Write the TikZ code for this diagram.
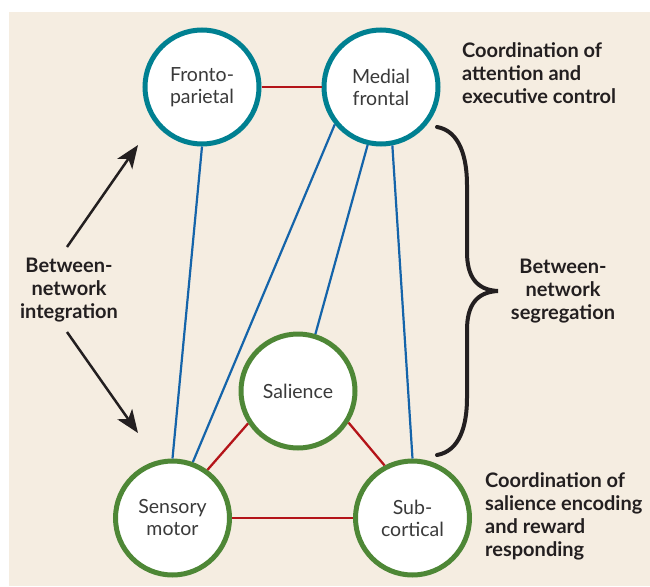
\documentclass[tikz,border=0pt]{standalone}
\usepackage{fontspec}
\setmainfont{Lato}
\usetikzlibrary{arrows.meta}
\definecolor{bgbeige}{RGB}{245,237,225}
\definecolor{netteal}{RGB}{0,128,145}
\definecolor{netgreen}{RGB}{78,135,54}
\definecolor{linkblue}{RGB}{20,100,170}
\definecolor{linkred}{RGB}{180,20,25}
\definecolor{txtdark}{RGB}{35,31,32}
\definecolor{txtgray}{RGB}{58,58,58}

\begin{document}
\begin{tikzpicture}[x=1pt, y=-1pt,
    net/.style={circle, draw, line width=5pt, fill=white, minimum size=114pt,
        inner sep=0pt, align=center, text=txtgray,
        font=\fontsize{19.5}{22}\selectfont},
    tealnet/.style={net, draw=netteal},
    greennet/.style={net, draw=netgreen},
    bluelink/.style={draw=linkblue, line width=2.2pt},
    redlink/.style={draw=linkred, line width=2.3pt},
    lbl/.style={inner sep=0pt, text=txtdark, font=\bfseries\fontsize{20}{23}\selectfont},
    pointer/.style={draw=txtdark, line width=2.5pt,
        -{Stealth[length=23pt, width=18pt, inset=6pt]}},
]
    \fill[white] (0,0) rectangle (650,586);
    \fill[bgbeige] (9,12) rectangle (650,586);
    \useasboundingbox (0,0) rectangle (650,586);

    \node [tealnet] (fp) at (202,87) {Fronto-\\parietal};
    \node [tealnet] (mf) at (381,87) {Medial\\frontal};
    \node [greennet] (sal) at (298,391) {Salience};
    \node [greennet] (sm) at (172.5,518) {Sensory\\motor};
    \node [greennet] (sc) at (412.5,518) {Sub-\\cortical};

    \draw [redlink] (fp.east) -- (mf.west);
    \draw [redlink] (sm.east) -- (sc.west);
    \draw [redlink] (sal.213) -- (sm.54);
    \draw [redlink] (sal.-32) -- (sc.118);
    \draw [bluelink] (fp.south) -- (sm.north);
    \draw [bluelink] (mf.219) -- (sm.70);
    \draw [bluelink] (mf.257) -- (sal.73);
    \draw [bluelink] (mf.281) -- (sc.north);

    \node [lbl, align=center] (integ) at (69,290) {Between-\\network\\integration};
    \node [lbl, align=center] (segr) at (563,291) {Between-\\network\\segregation};
    \node [lbl, align=left, anchor=west] (execctl) at (462,73)
        {Coordination of\\attention and\\executive control};
    \node [lbl, align=left, anchor=west] (salrew) at (485,516)
        {Coordination of\\salience encoding\\and reward\\responding};

    \coordinate (upstart) at (67,247);
    \coordinate (uptip) at (138,145);
    \coordinate (downstart) at (67,332);
    \coordinate (downtip) at (138,433);
    \draw [pointer] (upstart) -- (uptip);
    \draw [pointer] (downstart) -- (downtip);

    \draw [txtdark, line width=4pt, line cap=round]
        (437,127) .. controls (460,131) and (467,158) .. (467,185)
        -- (467,252) .. controls (467,276) and (476,290) .. (498,291)
        .. controls (476,292) and (467,306) .. (467,330)
        -- (467,398) .. controls (467,425) and (460,451) .. (437,455);
\end{tikzpicture}
\end{document}
